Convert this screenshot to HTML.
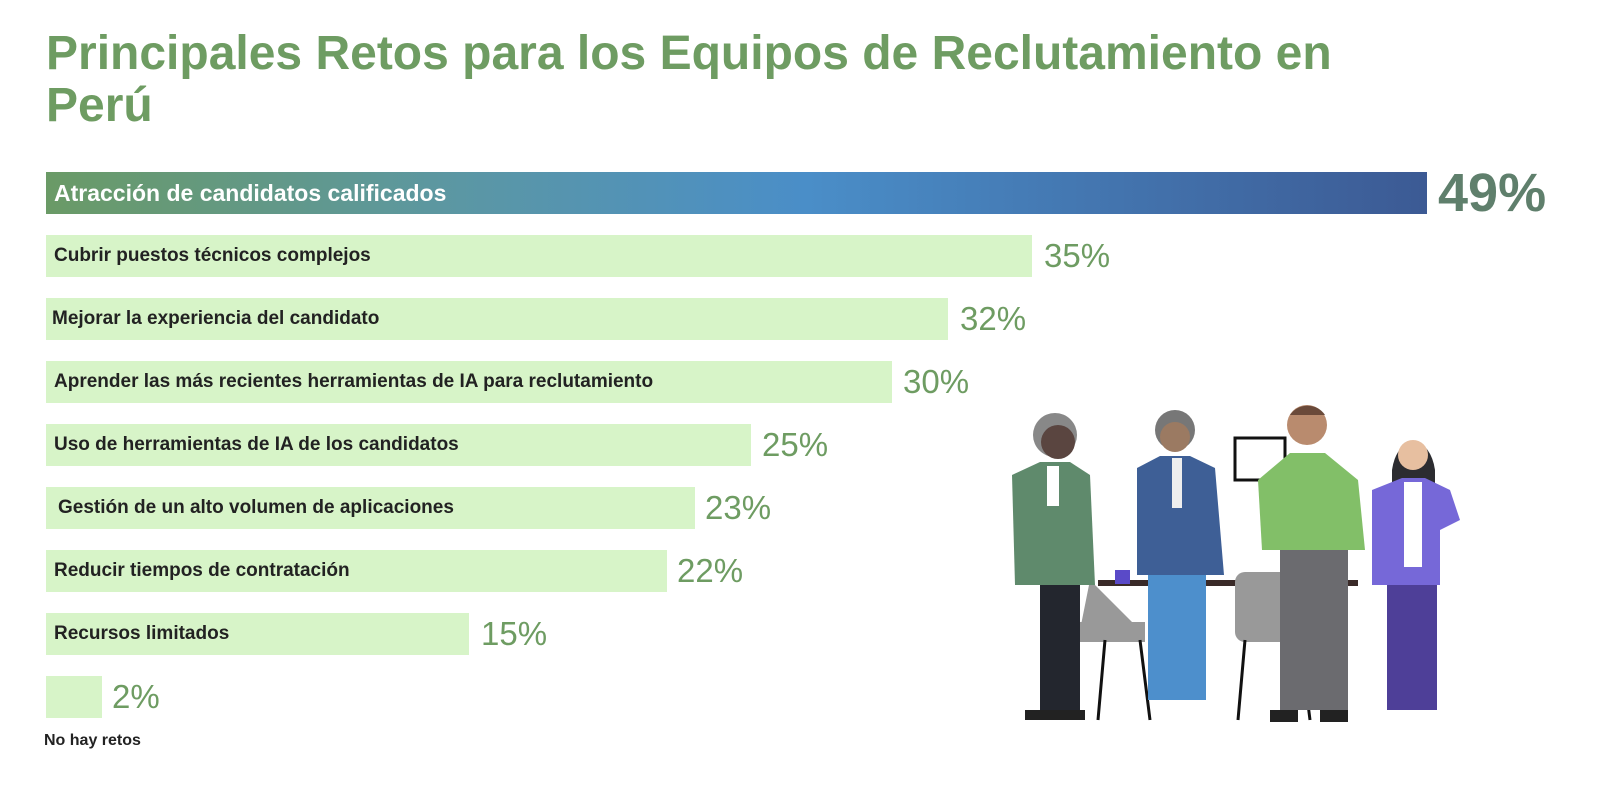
<!DOCTYPE html>
<html><head><meta charset="utf-8"><style>
body{margin:0;width:1600px;height:785px;background:#fff;font-family:"Liberation Sans",Arial,sans-serif;position:relative;overflow:hidden}
.t{position:absolute;left:46px;top:28px;font-size:48px;font-weight:bold;color:#6e9c62;line-height:52px;width:1450px}
.b{position:absolute;left:46px;height:42px;background:#d7f4c8;font-size:19px;font-weight:bold;color:#222;line-height:42px;padding-left:8px;box-sizing:border-box;white-space:nowrap}
.v{position:absolute;font-size:33px;color:#6e9c62;line-height:42px}
</style></head><body>
<div class="t">Principales Retos para los Equipos de Reclutamiento en<br>Perú</div>
<div class="b" style="top:172px;width:1381px;background:linear-gradient(90deg,#6a9a66,#5b97a4 30%,#4a8ec8 55%,#3c5a94);color:#fff;font-size:23px">Atracción de candidatos calificados</div>
<div class="v" style="left:1438px;top:172px;font-size:54px;font-weight:bold;color:#5f7f6c">49%</div>
<div class="b" style="top:235px;width:986px">Cubrir puestos técnicos complejos</div><div class="v" style="left:1044px;top:235px">35%</div>
<div class="b" style="top:298px;width:902px;padding-left:6px">Mejorar la experiencia del candidato</div><div class="v" style="left:960px;top:298px">32%</div>
<div class="b" style="top:361px;width:846px">Aprender las más recientes herramientas de IA para reclutamiento</div><div class="v" style="left:903px;top:361px">30%</div>
<div class="b" style="top:424px;width:705px">Uso de herramientas de IA de los candidatos</div><div class="v" style="left:762px;top:424px">25%</div>
<div class="b" style="top:487px;width:649px;padding-left:12px">Gestión de un alto volumen de aplicaciones</div><div class="v" style="left:705px;top:487px">23%</div>
<div class="b" style="top:550px;width:621px">Reducir tiempos de contratación</div><div class="v" style="left:677px;top:550px">22%</div>
<div class="b" style="top:613px;width:423px">Recursos limitados</div><div class="v" style="left:481px;top:613px">15%</div>
<div class="b" style="top:676px;width:56px"></div><div class="v" style="left:112px;top:676px">2%</div>
<div style="position:absolute;left:44px;top:732px;font-size:16px;font-weight:bold;color:#222">No hay retos</div>
<svg style="position:absolute;left:980px;top:390px" width="480" height="340" viewBox="0 0 480 340">
<rect x="118" y="190" width="260" height="6" fill="#3a2a28"/>
<rect x="255" y="48" width="50" height="42" fill="none" stroke="#111" stroke-width="3"/>
<path d="M110 190 L160 240 L100 240Z" fill="#999"/><rect x="95" y="232" width="70" height="20" fill="#999"/>
<path d="M125 250 L118 330 M160 250 L170 330" stroke="#111" stroke-width="3"/>
<rect x="255" y="182" width="70" height="70" rx="10" fill="#999"/>
<path d="M265 250 L258 330 M320 250 L330 330" stroke="#111" stroke-width="3"/>
<rect x="135" y="180" width="15" height="14" fill="#5a4ac8"/>
<circle cx="75" cy="45" r="22" fill="#888"/><circle cx="78" cy="52" r="17" fill="#5a4540"/>
<rect x="60" y="195" width="40" height="125" fill="#23262e"/><rect x="45" y="320" width="60" height="10" fill="#222"/>
<path d="M32 85 L60 72 L90 72 L110 85 L115 195 L35 195Z" fill="#5f8a6c"/>
<rect x="67" y="76" width="12" height="40" fill="#fff"/>
<circle cx="195" cy="40" r="20" fill="#777"/><circle cx="195" cy="47" r="15" fill="#9b7a62"/>
<rect x="168" y="185" width="58" height="125" fill="#4d8fcc"/>
<path d="M157 78 L180 66 L210 66 L235 78 L244 185 L157 185Z" fill="#3e5f96"/>
<rect x="192" y="68" width="10" height="50" fill="#eee"/>
<circle cx="327" cy="35" r="20" fill="#b98b6e"/><path d="M310 25 A20 18 0 0 1 345 25Z" fill="#6a4a3a"/>
<rect x="300" y="150" width="68" height="170" fill="#6b6b6f"/>
<path d="M278 90 L310 63 L345 63 L378 90 L385 160 L282 160Z" fill="#82bf68"/>
<rect x="290" y="320" width="28" height="12" fill="#222"/><rect x="340" y="320" width="28" height="12" fill="#222"/>
<path d="M412 80 A22 36 0 0 1 455 80 L455 95 L412 95Z" fill="#2c2c30"/>
<circle cx="433" cy="65" r="15" fill="#e7bfa0"/>
<rect x="407" y="170" width="50" height="150" fill="#4e3f98"/>
<path d="M392 100 L422 88 L445 88 L470 100 L480 130 L460 140 L460 195 L392 195Z" fill="#7668d8"/>
<rect x="424" y="92" width="18" height="85" fill="#fff"/>
</svg>
</body></html>
